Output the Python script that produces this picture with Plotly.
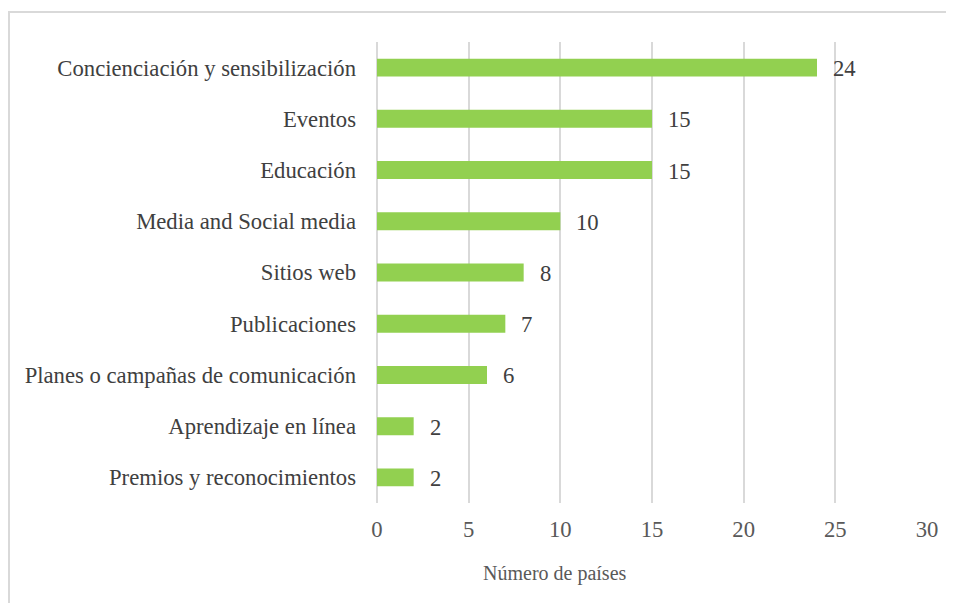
import plotly.graph_objects as go

categories = [
    "Concienciación y sensibilización",
    "Eventos",
    "Educación",
    "Media and Social media",
    "Sitios web",
    "Publicaciones",
    "Planes o campañas de comunicación",
    "Aprendizaje en línea",
    "Premios y reconocimientos",
]
values = [24, 15, 15, 10, 8, 7, 6, 2, 2]
x_ticks = [0, 5, 10, 15, 20, 25, 30]
x_title = "Número de países"

OFF = 8  # page body margin
W, H = 954 - OFF, 603 - OFF
ml, mr, mt, mb = 377 - OFF, 27, 42 - OFF, 100


def px_x(p):
    return p - OFF


def px_y(p):
    return p - OFF


fig = go.Figure()
fig.add_trace(go.Bar(
    x=values, y=categories, orientation="h",
    marker=dict(color="#92D050", line=dict(width=0)),
    hoverinfo="x+y",
))

font_family = "Liberation Serif, Times New Roman, serif"
FS = 22.7

for c, v in zip(categories, values):
    fig.add_annotation(
        x=v, y=c, xref="x", yref="y", text=str(v), showarrow=False,
        xanchor="left", yanchor="middle", xshift=14, yshift=-1,
        font=dict(family=font_family, size=FS, color="#404040"),
    )

pw = W - ml - mr
ph = H - mt - mb
fig.add_annotation(
    x=(px_x(555) - ml) / pw, y=-(px_y(573) - (mt + ph)) / ph, xref="paper", yref="paper",
    text=x_title, showarrow=False, xanchor="center", yanchor="middle",
    font=dict(family=font_family, size=20, color="#595959"),
)
fig.add_shape(
    type="rect", xref="paper", yref="paper",
    x0=(px_x(9) - ml) / pw, x1=(W + 20 - ml) / pw,
    y0=-(H + 20 - (mt + ph)) / ph, y1=1 + (mt - px_y(12)) / ph,
    line=dict(color="#D9D9D9", width=2), fillcolor="rgba(0,0,0,0)", layer="below",
)

fig.update_layout(
    width=W, height=H,
    margin=dict(l=ml, r=mr, t=mt, b=mb, pad=0),
    paper_bgcolor="white", plot_bgcolor="white",
    bargap=0.65,
    showlegend=False,
    font=dict(family=font_family, size=FS, color="#404040"),
    xaxis=dict(
        range=[0, 30], tickvals=x_ticks, showgrid=True, gridcolor="#D9D9D9",
        gridwidth=1.5, zeroline=True, zerolinecolor="#D9D9D9", zerolinewidth=1.5,
        showline=False, ticks="", ticklabelstandoff=10,
        tickfont=dict(family=font_family, size=FS, color="#595959"),
        fixedrange=True,
    ),
    yaxis=dict(
        categoryorder="array", categoryarray=categories[::-1],
        showgrid=False, showline=False, ticks="", ticklabelstandoff=20,
        tickfont=dict(family=font_family, size=FS, color="#404040"),
        fixedrange=True,
    ),
)

fig.write_html("out.html")
